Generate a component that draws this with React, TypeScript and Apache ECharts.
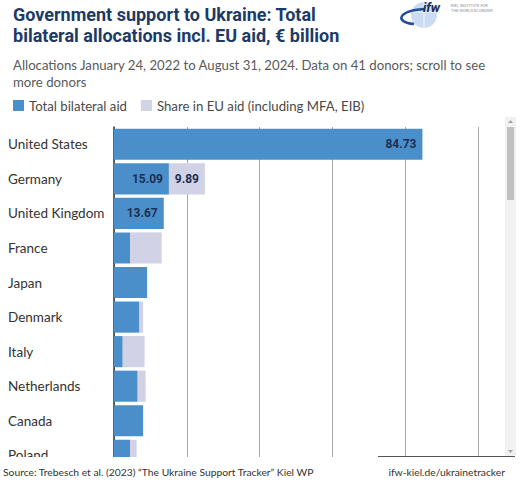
import { useEffect, useRef } from "react";
import * as echarts from "echarts";

const countries = [
  "United States",
  "Germany",
  "United Kingdom",
  "France",
  "Japan",
  "Denmark",
  "Italy",
  "Netherlands",
  "Canada",
  "Poland",
];
const bilateral = [84.73, 15.09, 13.67, 4.4, 9.1, 7.0, 2.4, 6.5, 8.0, 4.4];
const euShare = [0, 9.89, 0, 8.7, 0, 1.0, 6.0, 2.2, 0, 1.8];
const seriesNames = ["Total bilateral aid", "Share in EU aid (including MFA, EIB)"];
const xMin = 0;
const xMax = 100;
const xInterval = 20;

const TITLE = "Government support to Ukraine: Total\nbilateral allocations incl. EU aid, € billion";
const SUBTITLE = "Allocations January 24, 2022 to August 31, 2024. Data on 41 donors; scroll to see\nmore donors";
const SOURCE = "Source: Trebesch et al. (2023) “The Ukraine Support Tracker” Kiel WP";
const LINK = "ifw-kiel.de/ukrainetracker";

const BODY_FONT = "Lato";

export default function App() {
  const ref = useRef<HTMLDivElement>(null);
  useEffect(() => {
    document.body.style.margin = "0";
    const chart = echarts.init(ref.current!, null, { renderer: "svg" });
    const labelFmt = (p: any) => (p.value >= 9.5 ? Number(p.value).toFixed(2) : "");
    chart.setOption({
      animation: false,
      backgroundColor: "#ffffff",
      title: [
        {
          text: TITLE,
          left: 8,
          top: -1,
          textStyle: {
            fontFamily: "Roboto",
            fontSize: 18,
            fontWeight: "bold",
            color: "#1d3a66",
            lineHeight: 21,
          },
        },
        {
          text: SUBTITLE,
          left: 8,
          top: 51,
          textStyle: {
            fontFamily: BODY_FONT,
            fontSize: 13.2,
            fontWeight: "normal",
            color: "#5a5a5a",
            lineHeight: 17,
          },
        },
      ],
      legend: {
        left: 8,
        top: 94,
        itemWidth: 11,
        itemHeight: 11,
        itemGap: 14,
        icon: "rect",
        textStyle: { fontFamily: BODY_FONT, fontSize: 13.2, fontWeight: "normal", color: "#4a4a4a" },
        data: seriesNames,
      },
      grid: { left: 114, top: 127, width: 364, height: 345.6 },
      xAxis: {
        type: "value",
        min: xMin,
        max: xMax,
        interval: xInterval,
        axisLabel: { show: false },
        axisLine: { show: false },
        axisTick: { show: false },
        splitLine: { show: true, lineStyle: { color: "#a8a8a8", width: 1 } },
      },
      yAxis: {
        type: "category",
        inverse: true,
        data: countries,
        axisLine: { show: true, lineStyle: { color: "#333333", width: 1.5 } },
        axisTick: { show: false },
        axisLabel: {
          align: "left",
          margin: 106,
          fontFamily: BODY_FONT,
          fontSize: 13.5,
          color: "#333333",
        },
      },
      series: [
        {
          name: seriesNames[0],
          type: "bar",
          stack: "total",
          data: bilateral,
          barCategoryGap: "10%",
          itemStyle: { color: "#4b8fca" },
          label: {
            show: true,
            position: "insideRight",
            distance: 6,
            formatter: labelFmt,
            fontFamily: "Roboto",
            fontSize: 12,
            fontWeight: "bold",
            color: "#1b2f52",
          },
          z: 2,
        },
        {
          name: seriesNames[1],
          type: "bar",
          stack: "total",
          data: euShare,
          barCategoryGap: "10%",
          itemStyle: { color: "#d2d2e6" },
          label: {
            show: true,
            position: "insideRight",
            distance: 6,
            formatter: labelFmt,
            fontFamily: "Roboto",
            fontSize: 12,
            fontWeight: "bold",
            color: "#1b2f52",
          },
          z: 2,
        },
      ],
      graphic: [
        // cover below scroll viewport
        { type: "rect", z: 100, shape: { x: 0, y: 457, width: 520, height: 38 }, style: { fill: "#ffffff" } },
        { type: "line", z: 101, shape: { x1: 378, y1: 456.5, x2: 515, y2: 456.5 }, style: { stroke: "#555555", lineWidth: 1 } },
        {
          type: "text",
          z: 101,
          style: { text: SOURCE, x: 3, y: 472, fill: "#333333", font: `10.3px ${BODY_FONT}`, verticalAlign: "middle" },
        },
        {
          type: "text",
          z: 101,
          style: { text: LINK, x: 505, y: 472, fill: "#333333", font: `10.3px ${BODY_FONT}`, align: "right", verticalAlign: "middle" },
        },
        // scrollbar
        { type: "rect", z: 101, shape: { x: 505, y: 117, width: 11, height: 339 }, style: { fill: "#f1f1f1" } },
        { type: "rect", z: 102, shape: { x: 507, y: 127, width: 7, height: 73 }, style: { fill: "#c1c1c1" } },
        { type: "polygon", z: 102, shape: { points: [[508, 123], [513, 123], [510.5, 120]] }, style: { fill: "#a3a3a3" } },
        { type: "polygon", z: 102, shape: { points: [[508, 450], [513, 450], [510.5, 453]] }, style: { fill: "#a3a3a3" } },
        // logo
        { type: "circle", z: 101, shape: { cx: 424, cy: 15, r: 13 }, style: { fill: "#c9dcf1" } },
        { type: "line", z: 102, shape: { x1: 413, y1: 12, x2: 436, y2: 12 }, style: { stroke: "#ffffff", lineWidth: 0.8 } },
        { type: "line", z: 102, shape: { x1: 424, y1: 3, x2: 424, y2: 28 }, style: { stroke: "#ffffff", lineWidth: 0.8 } },
        {
          type: "bezierCurve",
          z: 103,
          shape: { x1: 424, y1: 9, cpx1: 398, cpy1: 11, cpx2: 394, cpy2: 22, x2: 414, y2: 24 },
          style: { stroke: "#1f4f9a", lineWidth: 2.5, fill: "none" },
        },
        {
          type: "text",
          z: 103,
          style: { text: "ifw", x: 423, y: 7.5, fill: "#1b2f52", font: "italic bold 13px Roboto", verticalAlign: "middle" },
        },
        {
          type: "text",
          z: 103,
          style: { text: "KIEL INSTITUTE FOR", x: 451, y: 5, fill: "#8a8f99", font: "4px Roboto", verticalAlign: "middle" },
        },
        {
          type: "text",
          z: 103,
          style: { text: "THE WORLD ECONOMY", x: 451, y: 10, fill: "#8a8f99", font: "4px Roboto", verticalAlign: "middle" },
        },
      ],
    });
    return () => chart.dispose();
  }, []);
  return <div ref={ref} style={{ width: 520, height: 495 }} />;
}
